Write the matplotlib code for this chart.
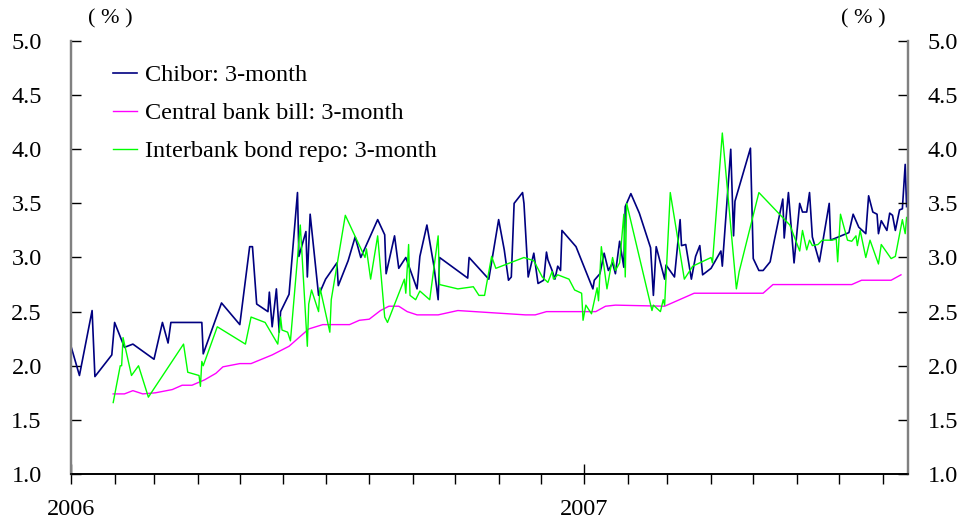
import matplotlib
matplotlib.use('Agg')
import matplotlib.pyplot as plt
import matplotlib.dates as mdates
import pandas as pd

plt.rcParams['font.family'] = ['Liberation Serif', 'DejaVu Serif']

# Chibor: 3-month
chibor_dates = ['2006-01-01', '2006-01-07', '2006-01-16', '2006-01-18', '2006-01-30', '2006-02-01',
                '2006-02-08', '2006-02-14', '2006-03-01', '2006-03-07', '2006-03-11', '2006-03-13',
                '2006-04-04', '2006-04-05', '2006-04-18', '2006-05-01', '2006-05-08', '2006-05-10',
                '2006-05-13', '2006-05-21', '2006-05-22', '2006-05-24', '2006-05-27', '2006-05-29',
                '2006-05-30', '2006-06-05', '2006-06-11', '2006-06-12', '2006-06-17', '2006-06-18',
                '2006-06-20', '2006-06-26', '2006-07-01', '2006-07-09', '2006-07-10', '2006-07-17',
                '2006-07-22', '2006-07-26', '2006-08-07', '2006-08-12', '2006-08-13', '2006-08-19',
                '2006-08-22', '2006-08-27', '2006-09-04', '2006-09-06', '2006-09-11', '2006-09-16',
                '2006-09-19', '2006-09-20', '2006-10-10', '2006-10-11', '2006-10-25', '2006-11-01',
                '2006-11-05', '2006-11-08', '2006-11-10', '2006-11-12', '2006-11-18', '2006-11-19',
                '2006-11-22', '2006-11-26', '2006-11-29', '2006-12-03', '2006-12-05', '2006-12-06',
                '2006-12-09', '2006-12-11', '2006-12-13', '2006-12-15', '2006-12-16', '2006-12-26',
                '2007-01-07', '2007-01-08', '2007-01-12', '2007-01-15', '2007-01-18', '2007-01-21',
                '2007-01-23', '2007-01-26', '2007-01-29', '2007-01-30', '2007-02-03', '2007-02-09',
                '2007-02-17', '2007-02-19', '2007-02-21', '2007-02-27', '2007-02-28', '2007-03-06',
                '2007-03-10', '2007-03-11', '2007-03-14', '2007-03-18', '2007-03-21', '2007-03-24',
                '2007-03-26', '2007-04-01', '2007-04-08', '2007-04-09', '2007-04-15', '2007-04-17',
                '2007-04-18', '2007-04-29', '2007-05-01', '2007-05-05', '2007-05-08', '2007-05-13',
                '2007-05-16', '2007-05-22', '2007-05-23', '2007-05-26', '2007-05-30', '2007-06-03',
                '2007-06-05', '2007-06-08', '2007-06-10', '2007-06-12', '2007-06-17', '2007-06-24',
                '2007-06-25', '2007-07-08', '2007-07-11', '2007-07-15', '2007-07-20', '2007-07-22',
                '2007-07-25', '2007-07-28', '2007-07-29', '2007-07-31', '2007-08-04', '2007-08-06',
                '2007-08-08', '2007-08-10', '2007-08-13', '2007-08-15', '2007-08-17', '2007-08-18']
chibor = [2.18, 1.91, 2.51, 1.90, 2.10, 2.40,
          2.17, 2.20, 2.06, 2.40, 2.21, 2.40,
          2.40, 2.11, 2.58, 2.38, 3.10, 3.10,
          2.57, 2.50, 2.68, 2.36, 2.71, 2.31,
          2.50, 2.66, 3.60, 3.01, 3.24, 2.82,
          3.40, 2.65, 2.80, 2.95, 2.74, 2.97,
          3.19, 3.00, 3.35, 3.21, 2.85, 3.20,
          2.90, 3.00, 2.71, 3.01, 3.30, 2.92,
          2.61, 3.00, 2.81, 3.00, 2.80, 3.35,
          3.07, 2.79, 2.82, 3.50, 3.60, 3.50,
          2.82, 3.04, 2.76, 2.79, 3.05, 2.98,
          2.88, 2.80, 2.92, 2.88, 3.25, 3.10,
          2.71, 2.79, 2.85, 3.04, 2.88, 2.95,
          2.85, 3.15, 2.91, 3.47, 3.59, 3.41,
          3.09, 2.65, 3.10, 2.80, 2.93, 2.82,
          3.35, 3.11, 3.12, 2.80, 3.01, 3.11,
          2.84, 2.90, 3.06, 2.92, 4.00, 3.20,
          3.52, 4.01, 2.99, 2.88, 2.88, 2.96,
          3.16, 3.54, 3.18, 3.60, 2.95, 3.50,
          3.42, 3.42, 3.60, 3.19, 2.96, 3.50,
          3.16, 3.23, 3.40, 3.28, 3.22, 3.57,
          3.42, 3.40, 3.22, 3.34, 3.25, 3.41,
          3.39, 3.25, 3.44, 3.45, 3.86, 3.47]

# Central bank bill: 3-month
bill_dates = ['2006-01-31', '2006-02-08', '2006-02-14', '2006-02-21', '2006-03-02', '2006-03-14',
              '2006-03-21', '2006-03-28', '2006-04-06', '2006-04-14', '2006-04-19', '2006-05-01',
              '2006-05-09', '2006-05-24', '2006-06-05', '2006-06-19', '2006-06-29', '2006-07-18',
              '2006-07-25', '2006-08-01', '2006-08-09', '2006-08-15', '2006-08-22', '2006-08-28',
              '2006-09-04', '2006-09-19', '2006-10-03', '2006-11-20', '2006-11-27', '2006-12-05',
              '2007-01-09', '2007-01-16', '2007-01-23', '2007-02-27', '2007-03-20', '2007-05-08',
              '2007-05-15', '2007-07-10', '2007-07-17', '2007-08-07', '2007-08-14']
bill = [1.74, 1.74, 1.77, 1.74, 1.75, 1.78,
        1.82, 1.82, 1.87, 1.93, 1.99, 2.02,
        2.02, 2.10, 2.18, 2.34, 2.38, 2.38,
        2.42, 2.43, 2.51, 2.55, 2.55, 2.50,
        2.47, 2.47, 2.51, 2.47, 2.47, 2.50,
        2.50, 2.55, 2.56, 2.55, 2.67, 2.67,
        2.75, 2.75, 2.79, 2.79, 2.84]

# Interbank bond repo: 3-month
repo_dates = ['2006-01-31', '2006-02-05', '2006-02-06', '2006-02-07', '2006-02-13', '2006-02-18',
              '2006-02-25', '2006-03-22', '2006-03-25', '2006-04-02', '2006-04-03', '2006-04-04',
              '2006-04-05', '2006-04-15', '2006-05-05', '2006-05-09', '2006-05-19', '2006-05-28',
              '2006-05-30', '2006-05-31', '2006-06-04', '2006-06-06', '2006-06-13', '2006-06-18',
              '2006-06-19', '2006-06-21', '2006-06-26', '2006-06-27', '2006-07-04', '2006-07-05',
              '2006-07-15', '2006-07-29', '2006-07-30', '2006-08-02', '2006-08-07', '2006-08-12',
              '2006-08-14', '2006-08-26', '2006-08-27', '2006-08-29', '2006-08-30', '2006-09-03',
              '2006-09-06', '2006-09-13', '2006-09-19', '2006-09-20', '2006-10-03', '2006-10-14',
              '2006-10-18', '2006-10-22', '2006-10-27', '2006-10-30', '2006-11-05', '2006-11-19',
              '2006-11-26', '2006-12-02', '2006-12-06', '2006-12-09', '2006-12-10', '2006-12-13',
              '2006-12-21', '2006-12-25', '2006-12-30', '2006-12-31', '2007-01-02', '2007-01-06',
              '2007-01-10', '2007-01-11', '2007-01-13', '2007-01-17', '2007-01-21', '2007-01-23',
              '2007-01-26', '2007-01-29', '2007-01-30', '2007-01-31', '2007-02-18', '2007-02-19',
              '2007-02-24', '2007-02-26', '2007-02-27', '2007-03-03', '2007-03-13', '2007-03-19',
              '2007-04-01', '2007-04-02', '2007-04-09', '2007-04-19', '2007-04-21', '2007-05-05',
              '2007-05-27', '2007-06-03', '2007-06-05', '2007-06-08', '2007-06-10', '2007-06-12',
              '2007-06-16', '2007-06-19', '2007-06-26', '2007-06-29', '2007-06-30', '2007-07-02',
              '2007-07-07', '2007-07-10', '2007-07-13', '2007-07-14', '2007-07-16', '2007-07-20',
              '2007-07-23', '2007-07-29', '2007-07-31', '2007-08-07', '2007-08-10', '2007-08-15',
              '2007-08-17', '2007-08-18']
repo = [1.66, 2.00, 2.00, 2.26, 1.91, 2.00,
        1.71, 2.20, 1.94, 1.91, 1.81, 2.04,
        2.00, 2.36, 2.20, 2.45, 2.40, 2.20,
        2.45, 2.33, 2.31, 2.23, 3.30, 2.18,
        2.57, 2.70, 2.50, 2.72, 2.31, 2.61,
        3.39, 3.00, 3.08, 2.80, 3.20, 2.45,
        2.40, 2.80, 2.67, 3.12, 2.65, 2.61,
        2.69, 2.61, 3.20, 2.75, 2.71, 2.73,
        2.65, 2.65, 3.01, 2.90, 2.93, 3.00,
        2.97, 2.82, 2.77, 2.87, 2.80, 2.84,
        2.80, 2.70, 2.67, 2.42, 2.56, 2.48,
        2.72, 2.60, 3.10, 2.71, 3.00, 2.88,
        2.95, 3.40, 2.82, 3.50, 2.51, 2.56,
        2.50, 2.61, 2.56, 3.60, 2.80, 2.92,
        3.00, 2.95, 4.15, 2.71, 2.87, 3.60,
        3.30, 3.06, 3.25, 3.07, 3.16, 3.11,
        3.12, 3.16, 3.16, 3.17, 2.96, 3.40,
        3.16, 3.15, 3.20, 3.11, 3.25, 3.00,
        3.16, 2.94, 3.12, 2.99, 3.01, 3.35,
        3.22, 3.37]

y_ticks = [1.0, 1.5, 2.0, 2.5, 3.0, 3.5, 4.0, 4.5, 5.0]
fs = 17.5

fig = plt.figure(figsize=(9.64, 5.2), dpi=100)
ax = fig.add_axes([71 / 964, 46 / 520, 837 / 964, 433 / 520])

ax.plot(pd.to_datetime(chibor_dates), chibor, color='#000080', lw=1.2, label='Chibor: 3-month')
ax.plot(pd.to_datetime(bill_dates), bill, color='#FF00FF', lw=1.0, label='Central bank bill: 3-month')
ax.plot(pd.to_datetime(repo_dates), repo, color='#00FF00', lw=1.0, label='Interbank bond repo: 3-month')

ax.set_xlim(pd.Timestamp('2006-01-01'), pd.Timestamp('2007-08-19'))
ax.set_ylim(1.0, 5.0)
ax.set_yticks(y_ticks)
ax.set_yticklabels(['%.1f' % v for v in y_ticks], fontsize=fs)
ax.tick_params(axis='y', direction='in', length=7, width=1, pad=21)

ax.xaxis.set_major_locator(mdates.YearLocator())
ax.xaxis.set_major_formatter(mdates.DateFormatter('%Y'))
ax.xaxis.set_minor_locator(mdates.MonthLocator())
ax.tick_params(axis='x', which='major', direction='inout', length=14, width=1, pad=11, labelsize=fs)
ax.tick_params(axis='x', which='minor', direction='out', length=7, width=1)

ax2 = ax.twinx()
ax2.set_ylim(1.0, 5.0)
ax2.set_yticks(y_ticks)
ax2.set_yticklabels(['%.1f' % v for v in y_ticks], fontsize=fs)
ax2.tick_params(axis='y', direction='in', length=7, width=1, pad=14)

for a in (ax, ax2):
    a.spines['top'].set_visible(False)
    a.spines['left'].set_color('#808080')
    a.spines['right'].set_color('#808080')
    a.spines['left'].set_linewidth(1.6)
    a.spines['right'].set_linewidth(1.6)
    a.spines['bottom'].set_linewidth(1.2)

fig.text(110 / 964, 1 - 19 / 520, '( % )', fontsize=16, ha='center', va='center')
fig.text(863 / 964, 1 - 19 / 520, '( % )', fontsize=16, ha='center', va='center')

ax.legend(loc='upper left', bbox_to_anchor=(113 / 964, 1 - 64 / 520), bbox_transform=fig.transFigure,
          frameon=False, fontsize=fs, handlelength=1.0, handletextpad=0.33, labelspacing=0.66,
          borderpad=0, borderaxespad=0)

fig.savefig('out.png', dpi=100)
